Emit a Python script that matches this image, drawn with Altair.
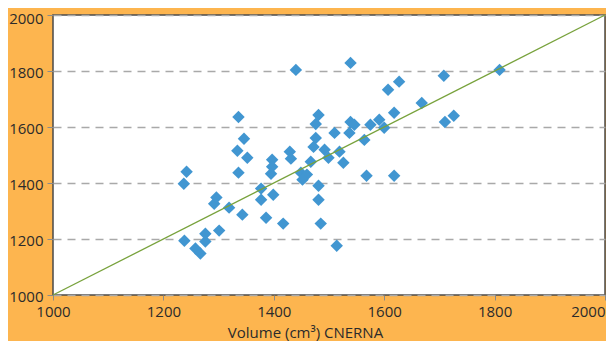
import altair as alt
import pandas as pd

# Volume (cm3) measured by CNERNA (x) vs other method (y)
cnerna = [1242, 1237, 1238, 1258, 1267, 1276, 1276, 1292, 1296, 1301,
          1319, 1336, 1334, 1336, 1346, 1352, 1343, 1377, 1377, 1386,
          1397, 1397, 1395, 1399, 1417, 1429, 1431, 1440, 1449, 1460,
          1452, 1467, 1472, 1476, 1476, 1481, 1481, 1481, 1485, 1492,
          1499, 1510, 1514, 1519, 1526, 1539, 1546, 1537, 1539, 1564,
          1568, 1575, 1591, 1600, 1607, 1627, 1618, 1618, 1668, 1708,
          1710, 1726, 1809]
other = [1440, 1397, 1194, 1166, 1148, 1191, 1219, 1326, 1348, 1230,
         1312, 1636, 1515, 1437, 1558, 1490, 1287, 1340, 1380, 1276,
         1483, 1458, 1433, 1358, 1255, 1512, 1487, 1804, 1437, 1430,
         1412, 1476, 1529, 1561, 1611, 1643, 1390, 1340, 1255, 1519,
         1490, 1579, 1176, 1512, 1472, 1618, 1608, 1579, 1829, 1554,
         1426, 1608, 1626, 1597, 1733, 1762, 1651, 1426, 1686, 1783,
         1618, 1640, 1804]
diagonal = [1000, 2000]
ticks = [1000, 1200, 1400, 1600, 1800, 2000]

pts = pd.DataFrame({"x": cnerna, "y": other})
diag = pd.DataFrame({"x": diagonal, "y": diagonal})

FONT = "Open Sans"
xscale = alt.Scale(domain=[1000, 2000], nice=False, zero=False)
yscale = alt.Scale(domain=[1000, 2000], nice=False, zero=False)

xaxis = alt.Axis(values=ticks, format="d", title="Volume (cm³) CNERNA", grid=False, domain=False,
                 tickColor="#8a8a8a", tickSize=5, tickWidth=1,
                 labelFont=FONT, labelFontSize=15, labelColor="#2b2b2b", labelPadding=4,
                 labelAlign=alt.expr("datum.value == 2000 ? 'right' : 'center'"),
                 titleFont=FONT, titleFontSize=15, titleFontWeight="normal", titleColor="#2b2b2b",
                 titleX=252, titleY=42, titleAnchor="start", titleAlign="center",
                 titleBaseline="alphabetic", labelFlush=False)
yaxis = alt.Axis(values=ticks, format="d", title=None, grid=True, gridColor="#a9a9a9", gridDash=[8, 6],
                 gridWidth=1.5, domain=False, tickColor="#8a8a8a", tickSize=6, tickWidth=1,
                 labelFont=FONT, labelFontSize=15, labelColor="#2b2b2b", labelPadding=4,
                 labelOffset=alt.expr("datum.value == 2000 ? 3 : 1"),
                 labelFlush=False)

points = alt.Chart(pts).mark_point(shape="diamond", filled=True, size=155,
                                    color="#4196d1", opacity=1).encode(
    x=alt.X("x:Q", scale=xscale, axis=xaxis),
    y=alt.Y("y:Q", scale=yscale, axis=yaxis),
)

line = alt.Chart(diag).mark_line(color="#78a23c", strokeWidth=1.3).encode(
    x=alt.X("x:Q", scale=xscale),
    y=alt.Y("y:Q", scale=yscale),
)

chart = alt.layer(points, line).properties(
    width=552, height=280,
    background="#fdb54f",
    padding={"left": 45, "top": 7, "right": 1, "bottom": 46},
    autosize=alt.AutoSizeParams(type="none"),
).configure_view(
    fill="white", stroke="#4a4a4a", strokeWidth=1.5
)

chart.save("out.html", embed_options={"renderer": "svg", "actions": False})
